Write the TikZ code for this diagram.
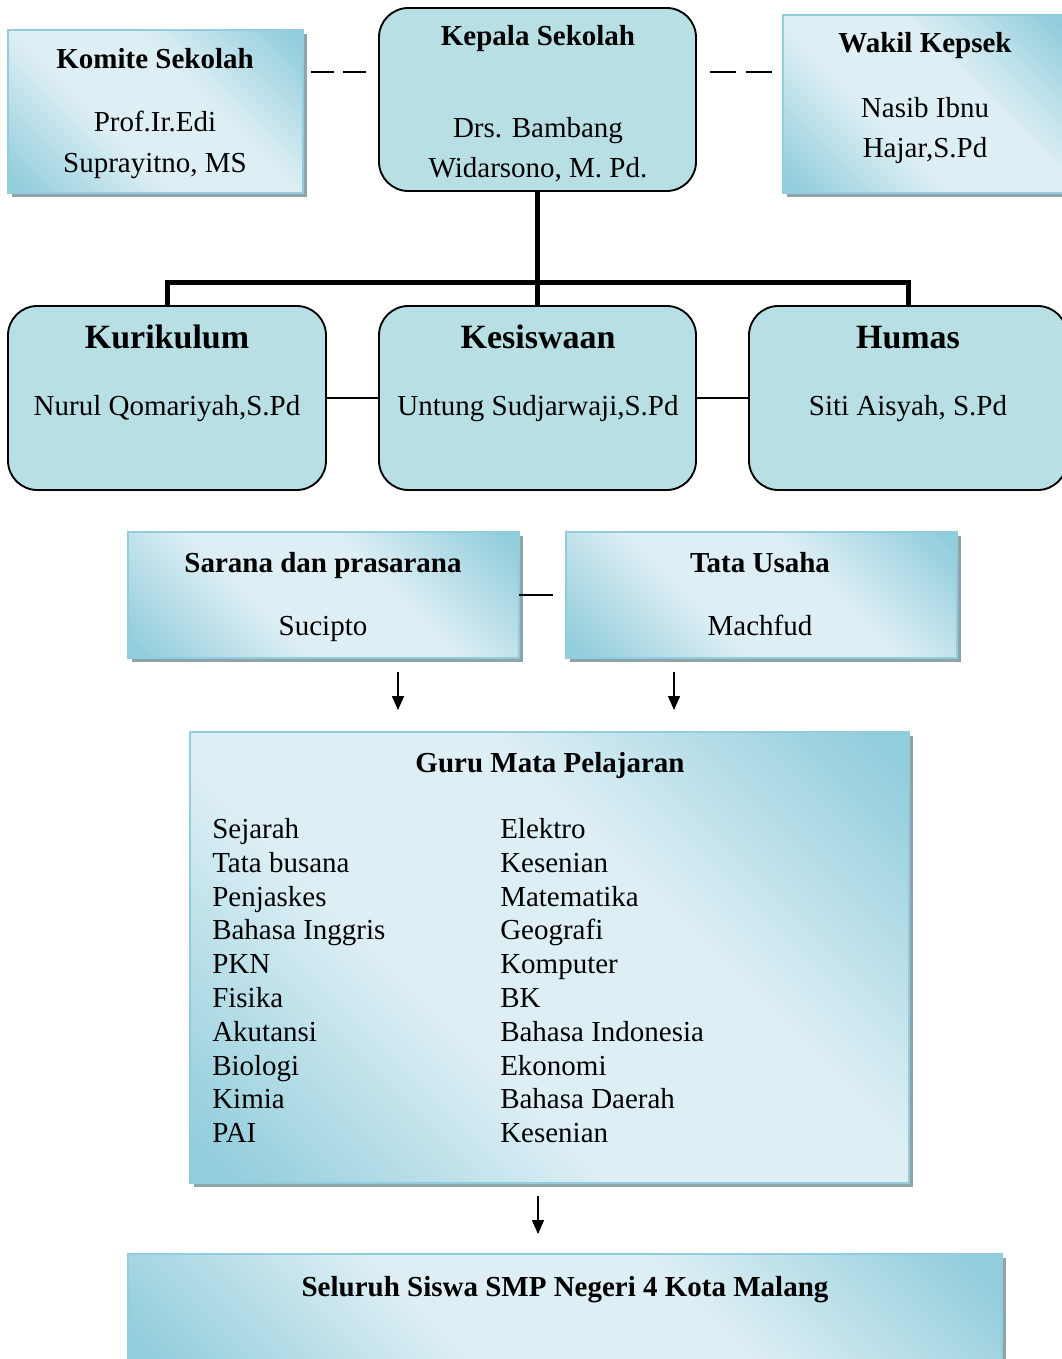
\documentclass[tikz,border=0pt]{standalone}
\usepackage{fontspec}
\setmainfont{Liberation Serif}
\usetikzlibrary{arrows.meta}
\definecolor{rfill}{HTML}{B7DFE4}
\definecolor{gdark}{HTML}{92CDDC}
\definecolor{glight}{HTML}{DDEFF4}
\definecolor{gborder}{HTML}{93CDDD}
\definecolor{shadowc}{HTML}{8FA3AA}
\pgfdeclareverticalshading{wordgrad}{100bp}{color(0bp)=(gdark); color(17bp)=(gdark); color(40bp)=(glight); color(60bp)=(glight); color(83bp)=(gdark); color(100bp)=(gdark)}
\begin{document}
\begin{tikzpicture}[x=0.75pt,y=-0.75pt,
  gbox/.style={rectangle, inner sep=0pt, outer sep=0pt, draw=gborder, line width=1.5pt,
    preaction={fill=shadowc, transform canvas={xshift=3pt,yshift=-3pt}},
    shade, shading=wordgrad, shading angle=-45},
  rbox/.style={rectangle, inner sep=0pt, outer sep=0pt, rounded corners=22pt, draw=black, line width=1.4pt, fill=rfill},
  txt/.style={inner sep=0pt, anchor=base, font=\fontsize{21.75}{26}\selectfont},
  tbold/.style={inner sep=0pt, anchor=base, font=\fontsize{21.75}{26}\selectfont\bfseries},
  tbig/.style={inner sep=0pt, anchor=base, font=\fontsize{25.5}{30}\selectfont\bfseries},
  lst/.style={inner sep=0pt, anchor=base west, font=\fontsize{21.75}{26}\selectfont},
  thickline/.style={line width=3.75pt},
  thinline/.style={line width=1.1pt},
  dashlineA/.style={line width=1.1pt, dash pattern=on 17.25pt off 6.75pt},
  dashlineB/.style={line width=1.1pt, dash pattern=on 19.5pt off 7.5pt},
  arr/.style={line width=1.1pt, -{Triangle[width=9pt,length=10.5pt]}}
]
\useasboundingbox (0,0) rectangle (1061,1359);

% boxes
\node[gbox, minimum width=221.25pt, minimum height=122.25pt] (komite) at (155.5,111.5) {};
\node[rbox, minimum width=237.75pt, minimum height=137.25pt] (kepala) at (537.5,99.5) {};
\node[gbox, minimum width=213pt, minimum height=133.5pt] (wakil) at (925,104) {};

\node[rbox, minimum width=238.5pt, minimum height=138pt] (kurikulum) at (167,398) {};
\node[rbox, minimum width=237.75pt, minimum height=138pt] (kesiswaan) at (537.5,398) {};
\node[rbox, minimum width=238.5pt, minimum height=138pt] (humas) at (908,398) {};

\node[gbox, minimum width=293.25pt, minimum height=94.5pt] (sarana) at (323.5,595) {};
\node[gbox, minimum width=293.25pt, minimum height=94.5pt] (tata) at (761.5,595) {};

\node[gbox, minimum width=539.25pt, minimum height=338.25pt] (guru) at (549.5,957.5) {};
\node[gbox, minimum width=655.5pt, minimum height=87pt] (siswa) at (565,1312) {};

% texts
\node[tbold] (komiteT) at (155,69) {Komite Sekolah};
\node[txt] (komiteA) at (155,132) {Prof.Ir.Edi};
\node[txt] (komiteB) at (155,172) {Suprayitno, MS};

\node[tbold] (kepalaT) at (538,46) {Kepala Sekolah};
\node[txt] (kepalaA) at (538,138) {Drs. Bambang};
\node[txt] (kepalaB) at (538,177) {Widarsono, M. Pd.};

\node[tbold] (wakilT) at (925,53) {Wakil Kepsek};
\node[txt] (wakilA) at (925,118) {Nasib Ibnu};
\node[txt] (wakilB) at (925,157) {Hajar,S.Pd};

\node[tbig] (kurT) at (167,348) {Kurikulum};
\node[txt] (kurA) at (167,415) {Nurul Qomariyah,S.Pd};
\node[tbig] (kesT) at (538,348) {Kesiswaan};
\node[txt] (kesA) at (538,415) {Untung Sudjarwaji,S.Pd};
\node[tbig] (humT) at (908,348) {Humas};
\node[txt] (humA) at (908,415) {Siti Aisyah, S.Pd};

\node[tbold] (saranaT) at (323,572) {Sarana dan prasarana};
\node[txt] (saranaA) at (323,635) {Sucipto};
\node[tbold] (tataT) at (760,572) {Tata Usaha};
\node[txt] (tataA) at (760,635) {Machfud};

\node[tbold] (guruT) at (550,772) {Guru Mata Pelajaran};
\foreach \t [count=\i] in {Sejarah, Tata busana, Penjaskes, Bahasa Inggris, PKN, Fisika, Akutansi, Biologi, Kimia, PAI}
  \node[lst] (la\i) at (212,{838.5+33.8*(\i-1)}) {\t};
\foreach \t [count=\i] in {Elektro, Kesenian, Matematika, Geografi, Komputer, BK, Bahasa Indonesia, Ekonomi, Bahasa Daerah, Kesenian}
  \node[lst] (lb\i) at (500,{838.5+33.8*(\i-1)}) {\t};

\node[tbold] (siswaT) at (565,1296) {Seluruh Siswa SMP Negeri 4 Kota Malang};

% connectors
\draw[dashlineA, shorten <=6pt, shorten >=9.75pt] (komite.east |- 0,72) -- (kepala.west |- 0,72);
\draw[dashlineB, shorten <=10.5pt, shorten >=8.25pt] (kepala.east |- 0,72) -- (wakil.west |- 0,72);

\draw[thickline] (kepala.south) -- (kesiswaan.north);
\draw[thickline] (kurikulum.north) -- (kurikulum.north |- 0,282) -- (humas.north |- 0,282) -- (humas.north);

\draw[thinline] (kurikulum.east) -- (kesiswaan.west);
\draw[thinline] (kesiswaan.east) -- (humas.west);

\draw[thinline, shorten >=9.75pt] (sarana.east) -- (tata.west);

\draw[arr, shorten <=10.5pt, shorten >=16.5pt] (sarana.south -| 398,0) -- (guru.north -| 398,0);
\draw[arr, shorten <=10.5pt, shorten >=16.5pt] (tata.south -| 674,0) -- (guru.north -| 674,0);
\draw[arr, shorten <=9.75pt, shorten >=15pt] (guru.south -| 538,0) -- (siswa.north -| 538,0);
\end{tikzpicture}
\end{document}
